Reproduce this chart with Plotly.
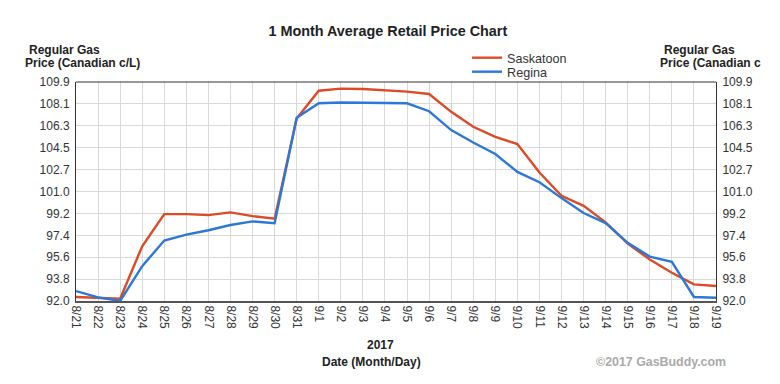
import plotly.graph_objects as go

dates = ["8/21", "8/22", "8/23", "8/24", "8/25", "8/26", "8/27", "8/28", "8/29", "8/30",
         "8/31", "9/1", "9/2", "9/3", "9/4", "9/5", "9/6", "9/7", "9/8", "9/9",
         "9/10", "9/11", "9/12", "9/13", "9/14", "9/15", "9/16", "9/17", "9/18", "9/19"]

saskatoon = [92.33, 92.24, 92.19, 96.47, 99.10, 99.10, 99.02, 99.24, 98.94, 98.73,
             106.92, 109.19, 109.36, 109.33, 109.25, 109.11, 108.92, 107.46, 106.24, 105.42,
             104.83, 102.50, 100.60, 99.78, 98.43, 96.69, 95.39, 94.31, 93.36, 93.22]

regina = [92.81, 92.30, 92.00, 94.85, 96.94, 97.42, 97.78, 98.21, 98.51, 98.35,
          106.97, 108.16, 108.22, 108.22, 108.16, 108.16, 107.51, 105.97, 104.96, 104.01,
          102.55, 101.71, 100.41, 99.19, 98.37, 96.75, 95.63, 95.20, 92.33, 92.27]

y_tickvals = [92.0, 93.79, 95.58, 97.37, 99.16, 100.95, 102.74, 104.53, 106.32, 108.11, 109.9]
y_ticktext = ["92.0", "93.8", "95.6", "97.4", "99.2", "101.0", "102.7", "104.5", "106.3", "108.1", "109.9"]

FONT = "Liberation Sans, Arial, sans-serif"
RED = "#dc4a26"
BLUE = "#2b78d8"

fig = go.Figure()
fig.add_trace(go.Scatter(x=dates, y=saskatoon, name="Saskatoon", mode="lines",
                         line=dict(color=RED, width=2.4), legend="legend"))
fig.add_trace(go.Scatter(x=dates, y=regina, name="Regina", mode="lines",
                         line=dict(color=BLUE, width=2.4), legend="legend2"))
fig.add_trace(go.Scatter(x=dates, y=regina, yaxis="y2", mode="lines", showlegend=False,
                         line=dict(color="rgba(0,0,0,0)", width=0), hoverinfo="skip"))

legend_common = dict(xanchor="left", yanchor="middle", bgcolor="rgba(0,0,0,0)",
                     font=dict(size=12.6, color="#333"), itemwidth=30)

fig.update_layout(
    width=772, height=376, autosize=False,
    margin=dict(l=68, r=64, t=74, b=83, autoexpand=False),
    paper_bgcolor="white", plot_bgcolor="white",
    font=dict(family=FONT, size=12, color="#222"),
    title=dict(text="<b>1 Month Average Retail Price Chart</b>", x=0.492, xref="container",
               xanchor="center", y=1 - 23 / 376, yref="container", yanchor="middle",
               font=dict(size=14.4, color="#222")),
    showlegend=True,
    legend=dict(x=0.611, y=(293 - 50) / 219, **legend_common),
    legend2=dict(x=0.611, y=(293 - 64) / 219, **legend_common),
    xaxis=dict(type="category", categoryorder="array", categoryarray=dates,
               range=[0, len(dates) - 1], tickangle=90, showgrid=True, gridcolor="#d9d9d9",
               gridwidth=1, showline=True, linecolor="#555", linewidth=2,
               tickfont=dict(size=12, color="#333"), ticks="", zeroline=False),
    yaxis=dict(range=[92.0, 109.9], tickvals=y_tickvals, ticktext=y_ticktext,
               showgrid=True, gridcolor="#d9d9d9", gridwidth=1, showline=True,
               linecolor="#333", linewidth=1, zeroline=False,
               tickfont=dict(size=12, color="#333"), ticks="outside", ticklen=3,
               tickcolor="white"),
    yaxis2=dict(range=[92.0, 109.9], tickvals=y_tickvals, ticktext=y_ticktext,
                overlaying="y", side="right", showgrid=False, showline=True,
                linecolor="#333", linewidth=1, zeroline=False,
                tickfont=dict(size=12, color="#333"), ticks="outside", ticklen=3,
                tickcolor="white"),
    shapes=[dict(type="line", xref="paper", yref="paper", x0=0, x1=1, y0=1, y1=1,
                 line=dict(color="#333", width=1.2))],
)

def ann(text, xpx, ypx, xanchor="left", size=12, color="#222"):
    fig.add_annotation(text=text, x=(xpx - 68) / 640, y=(293 - ypx) / 219,
                       xref="paper", yref="paper", xanchor=xanchor, yanchor="middle",
                       showarrow=False, font=dict(size=size, color=color))

ann("<b>Regular Gas</b>", 19, 42)
ann("<b>Price (Canadian c/L)</b>", 15, 55)
ann("<b>Regular Gas</b>", 654, 42)
ann("<b>Price (Canadian c</b>", 650, 55)
ann("<b>2017</b>", 372, 337, xanchor="center")
ann("<b>Date (Month/Day)</b>", 363, 354, xanchor="center")
ann("<b>©2017 GasBuddy.com</b>", 720, 354, xanchor="right", size=12.4, color="#aaa")

fig.write_html("out.html")
